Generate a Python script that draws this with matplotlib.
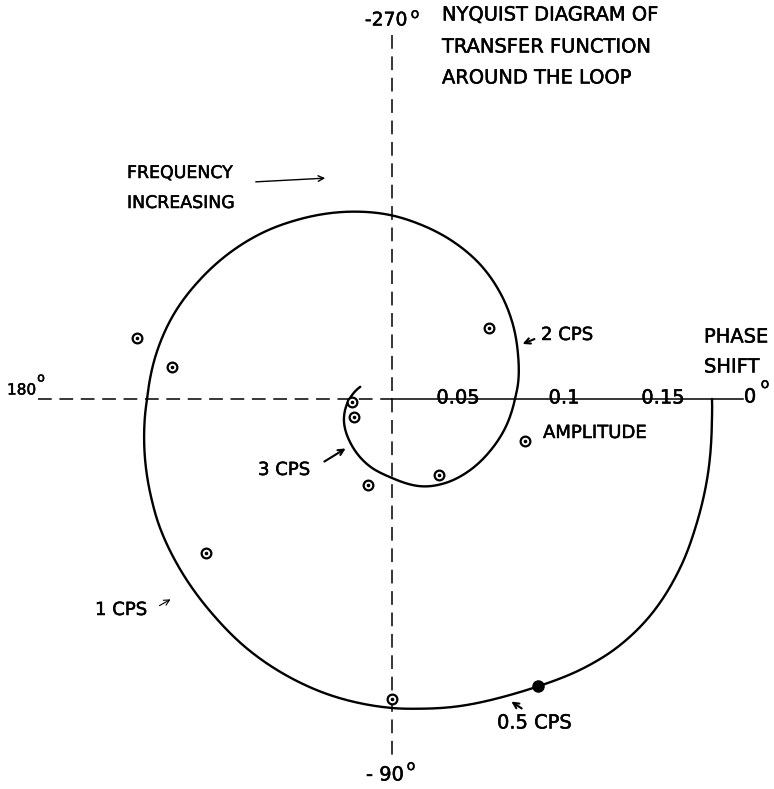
import matplotlib
matplotlib.use("Agg")
import matplotlib.pyplot as plt
import matplotlib.patheffects as pe
import numpy as np

# ---- data ----
# Nyquist locus: phase (degrees, continuous) and amplitude
phase_deg = [0, -5, -14, -22, -30.4, -39.5, -47.5, -54.5, -63, -69.4,
             -78.6, -84.8, -90, -101, -109.5, -119.7, -130, -141, -151.5, -158,
             -169.5, -177, -180, -191, -201.4, -212, -222.6, -233, -243, -257.3,
             -269.4, -279, -291, -303, -315, -327, -340, -353, -360, -374,
             -388, -404, -416.5, -430, -450, -468, -492, -515, -532, -546, -561]
amplitude = [0.1600, 0.1605, 0.1625, 0.1645, 0.1670, 0.1685, 0.1677, 0.1652, 0.1612, 0.1590,
             0.1570, 0.1555, 0.1545, 0.1515, 0.1485, 0.1445, 0.1400, 0.1360, 0.1325, 0.1300,
             0.1260, 0.1235, 0.1225, 0.1200, 0.1170, 0.1130, 0.1090, 0.1050, 0.1010, 0.0960,
             0.0920, 0.0885, 0.0845, 0.0805, 0.0760, 0.0715, 0.0670, 0.0635, 0.0615, 0.0585,
             0.0555, 0.0525, 0.0500, 0.0465, 0.0395, 0.0355, 0.0305, 0.0265, 0.0230, 0.0200, 0.0170]

# measured points (open circles), cartesian
meas_x = [-0.1275, -0.110, 0.0485, 0.0665, 0.0235, -0.020, -0.019, -0.012, -0.093, 0.0]
meas_y = [0.0305, 0.016, 0.0355, -0.021, -0.038, -0.0015, -0.009, -0.043, -0.077, -0.150]

# 0.5 cps point on the locus
half_cps_phase = -63
half_cps_amp = 0.1612

amp_ticks = ["0.05", "0.1", "0.15"]
amp_tick_x = [0.033, 0.086, 0.1355]

# ---- figure ----
fig = plt.figure(figsize=(7.74, 7.89), dpi=100)
ax = fig.add_axes([0, 0, 1, 1])
ax.set_xlim(-0.196, 0.191)
ax.set_ylim(-0.195, 0.1995)
ax.axis("off")

ink = "black"
font = "DejaVu Sans"
heavy = [pe.withStroke(linewidth=0.35, foreground=ink)]


def txt(x, y, s, size, ha="left", **kw):
    ax.text(x, y, s, ha=ha, va="center", fontsize=size, family=font,
            path_effects=heavy, **kw)


# axes lines
ax.plot([-0.177, 0.0], [0, 0], color=ink, lw=1.1, dashes=(9, 5))
ax.plot([0.0, 0.1755], [0, 0], color=ink, lw=1.1)
ax.plot([0, 0], [0.182, -0.1795], color=ink, lw=1.1, dashes=(9, 5))

# locus: smooth cubic Hermite in (phase, amplitude), then polar -> cartesian
th = np.array(phase_deg, dtype=float)
rr = np.array(amplitude, dtype=float)
n = len(th)
m = np.zeros(n)
m[0] = (rr[1] - rr[0]) / (th[1] - th[0])
m[-1] = (rr[-1] - rr[-2]) / (th[-1] - th[-2])
for i in range(1, n - 1):
    m[i] = (rr[i + 1] - rr[i - 1]) / (th[i + 1] - th[i - 1])
seg_th, seg_r = [], []
for i in range(n - 1):
    h = th[i + 1] - th[i]
    t = np.linspace(0, 1, 20, endpoint=False)
    h00 = 2 * t**3 - 3 * t**2 + 1
    h10 = t**3 - 2 * t**2 + t
    h01 = -2 * t**3 + 3 * t**2
    h11 = t**3 - t**2
    seg_th.append(th[i] + h * t)
    seg_r.append(h00 * rr[i] + h10 * h * m[i] + h01 * rr[i + 1] + h11 * h * m[i + 1])
seg_th.append([th[-1]])
seg_r.append([rr[-1]])
draw_th = np.radians(np.concatenate(seg_th))
draw_r = np.concatenate(seg_r)
ax.plot(draw_r * np.cos(draw_th), draw_r * np.sin(draw_th), color=ink, lw=1.7,
        solid_capstyle="round")

# measured points
ax.plot(meas_x, meas_y, ls="none", marker="o", ms=7, mfc="white", mec=ink, mew=1.6)
ax.plot(meas_x, meas_y, ls="none", marker="o", ms=1.6, mfc=ink, mec=ink)
hx = half_cps_amp * np.cos(np.radians(half_cps_phase))
hy = half_cps_amp * np.sin(np.radians(half_cps_phase))
ax.plot([hx], [hy], ls="none", marker="o", ms=8, mfc=ink, mec=ink)

# amplitude labels along the axis
for lab, x in zip(amp_ticks, amp_tick_x):
    txt(x, 0.0005, lab, 14, ha="center")

# phase labels
txt(-0.003, 0.1895, "-270", 13.5, ha="center")
txt(0.0115, 0.1925, "o", 10, ha="center")
txt(-0.0035, -0.188, "- 90", 14, ha="center")
txt(0.0095, -0.1835, "o", 10, ha="center")
txt(-0.1925, 0.0045, "180", 11)
txt(-0.1755, 0.0105, "o", 9, ha="center")
txt(0.179, 0.001, "0", 14, ha="center")
txt(0.1865, 0.0075, "o", 10, ha="center")

# title
for line, y in zip(["NYQUIST DIAGRAM OF", "TRANSFER FUNCTION", "AROUND THE LOOP"],
                   [0.192, 0.176, 0.1605]):
    txt(0.025, y, line, 14)

txt(0.156, 0.031, "PHASE", 14)
txt(0.156, 0.016, "SHIFT", 14)
txt(0.0755, -0.017, "AMPLITUDE", 13)

txt(-0.1325, 0.113, "FREQUENCY", 12.5)
txt(-0.1325, 0.098, "INCREASING", 12.5)
ax.annotate("", xy=(-0.032, 0.1105), xytext=(-0.0695, 0.1085),
            arrowprops=dict(arrowstyle="->", color=ink, lw=1.0))

# frequency labels with arrows
txt(0.0745, 0.032, "2 CPS", 13)
ax.annotate("", xy=(0.064, 0.027), xytext=(0.0725, 0.0305),
            arrowprops=dict(arrowstyle="->", color=ink, lw=1.5))
txt(-0.067, -0.0355, "3 CPS", 13)
ax.annotate("", xy=(-0.022, -0.024), xytext=(-0.035, -0.032),
            arrowprops=dict(arrowstyle="->", color=ink, lw=1.5))
txt(-0.1485, -0.1055, "1 CPS", 13)
ax.annotate("", xy=(-0.1095, -0.0995), xytext=(-0.1175, -0.104),
            arrowprops=dict(arrowstyle="->", color=ink, lw=0.8))
txt(0.0525, -0.162, "0.5 CPS", 14)
ax.annotate("", xy=(0.0585, -0.1505), xytext=(0.066, -0.1555),
            arrowprops=dict(arrowstyle="->", color=ink, lw=1.5))

fig.savefig("out.png", dpi=100)
